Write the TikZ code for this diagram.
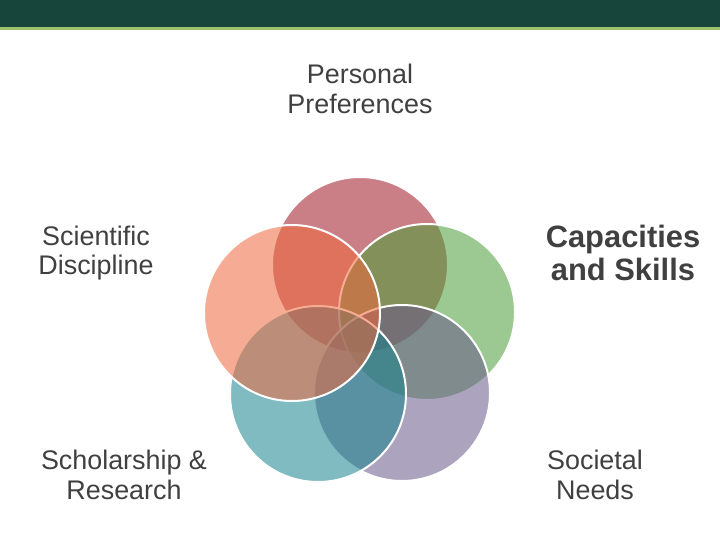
\documentclass[tikz,border=0pt]{standalone}
\usepackage{fontspec}
\setmainfont{Liberation Sans}
\usepackage{xcolor}
\usepackage{tikz}
\usetikzlibrary{positioning}
\definecolor{barGreen}{RGB}{23,69,59}
\definecolor{barLine}{RGB}{157,196,108}
\definecolor{labelGray}{RGB}{64,64,64}
\definecolor{petRose}{RGB}{157,22,33}
\definecolor{petGreen}{RGB}{73,157,55}
\definecolor{petPurple}{RGB}{104,88,137}
\definecolor{petTeal}{RGB}{22,131,142}
\definecolor{petSalmon}{RGB}{239,104,60}
\tikzset{
vnpetal/.style={circle,draw=white,line width=2pt,fill opacity=0.55,minimum size=176bp,inner sep=0pt},
vnlabel/.style={align=center,text=labelGray,font=\fontsize{27}{30}\selectfont,inner sep=0pt},
vnstrong/.style={vnlabel,font=\fontsize{31}{34}\selectfont\bfseries}
}

\begin{document}
\begin{tikzpicture}[
x=1bp,
y=-1bp
]
\useasboundingbox (0,0) rectangle (720,540);
% header band
\fill[barGreen] (0,0) rectangle (720,27);
\fill[barLine] (0,27) rectangle (720,30.5);
% petals
\node[vnpetal,fill=petRose]   (personal) at (360,265) {};
\node[vnpetal,fill=petGreen]  (capacity) at (427,312) {};
\node[vnpetal,fill=petPurple] (societal) at (402,393) {};
\node[vnpetal,fill=petTeal]   (scholar)  at (318,394) {};
\node[vnpetal,fill=petSalmon] (science)  at (292,313) {};
% labels
\node[vnlabel]  (personalText) at (360,89)  {Personal\\Preferences};
\node[vnlabel]  (scienceText)  at (96,253)  {Scientific\\Discipline};
\node[vnstrong] (capacityText) at (623,253) {Capacities\\and Skills};
\node[vnlabel]  (scholarText)  at (124,475) {Scholarship \&\\Research};
\node[vnlabel]  (societalText) at (595,475) {Societal\\Needs};
\end{tikzpicture}
\end{document}
